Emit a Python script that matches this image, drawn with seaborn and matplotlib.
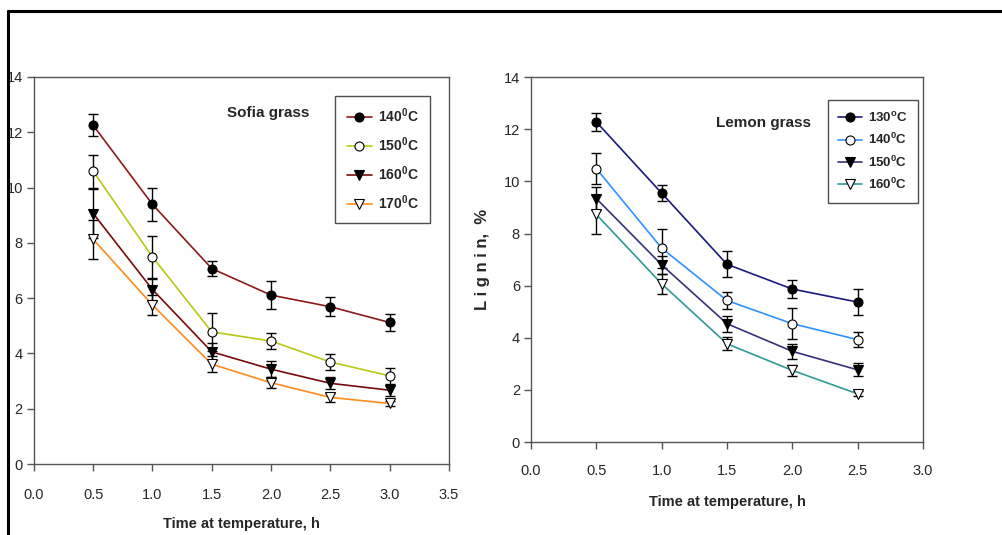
import numpy as np
import pandas as pd
import matplotlib
matplotlib.use("Agg")
import matplotlib.pyplot as plt
import seaborn as sns
from matplotlib.lines import Line2D

# Sofia grass
sofia_time = [0.5, 1.0, 1.5, 2.0, 2.5, 3.0]
sofia_labels = ["140$^0$C", "150$^0$C", "160$^0$C", "170$^0$C"]
sofia_140 = [12.25, 9.39, 7.07, 6.11, 5.69, 5.12]
sofia_150 = [10.59, 7.49, 4.78, 4.45, 3.69, 3.19]
sofia_160 = [9.06, 6.31, 4.06, 3.43, 2.92, 2.67]
sofia_170 = [8.13, 5.75, 3.61, 2.94, 2.41, 2.19]
sofia_140_err = [0.40, 0.60, 0.28, 0.50, 0.35, 0.30]
sofia_150_err = [0.60, 0.75, 0.70, 0.28, 0.30, 0.30]
sofia_160_err = [0.90, 0.40, 0.30, 0.30, 0.22, 0.20]
sofia_170_err = [0.70, 0.35, 0.28, 0.20, 0.15, 0.10]

# Lemon grass
lemon_time = [0.5, 1.0, 1.5, 2.0, 2.5]
lemon_labels = ["130$^{\\rm o}$C", "140$^0$C", "150$^0$C", "160$^0$C"]
lemon_130 = [12.28, 9.55, 6.82, 5.87, 5.37]
lemon_140 = [10.49, 7.44, 5.43, 4.54, 3.93]
lemon_150 = [9.34, 6.80, 4.54, 3.48, 2.77]
lemon_160 = [8.73, 6.07, 3.77, 2.75, 1.85]
lemon_130_err = [0.35, 0.30, 0.50, 0.35, 0.50]
lemon_140_err = [0.60, 0.75, 0.32, 0.60, 0.30]
lemon_150_err = [0.45, 0.35, 0.30, 0.30, 0.25]
lemon_160_err = [0.75, 0.38, 0.25, 0.20, 0.10]

sns.set_style("white")
plt.rcParams["font.family"] = ["Liberation Sans", "DejaVu Sans"]
plt.rcParams["mathtext.fontset"] = "custom"
plt.rcParams["mathtext.rm"] = "Liberation Sans:bold"
plt.rcParams["mathtext.bf"] = "Liberation Sans:bold"

fig = plt.figure(figsize=(10.02, 5.35), dpi=100)
ax1 = fig.add_axes([0.0339, 0.1327, 0.414, 0.7234])
ax2 = fig.add_axes([0.530, 0.1738, 0.391, 0.682])

markers = ["o", "o", "v", "v"]
faces = ["black", "white", "black", "white"]


def draw_panel(ax, t, series, errs, labels, colors):
    for i in range(4):
        df = pd.DataFrame({"t": t, "y": series[i]})
        ax.errorbar(t, series[i], yerr=errs[i], fmt="none", ecolor="black",
                    elinewidth=1, capsize=3.5, capthick=1, zorder=2)
        sns.lineplot(data=df, x="t", y="y", ax=ax, color=colors[i],
                     marker=markers[i], markersize=6.5,
                     markerfacecolor=faces[i], markeredgecolor="black",
                     markeredgewidth=0.8, linewidth=1.2, label=labels[i],
                     zorder=3)
    for s in ax.spines.values():
        s.set_visible(True)
        s.set_color("#555555")
        s.set_linewidth(1)
    ax.set_ylim(0, 14)
    ax.set_yticks(range(0, 15, 2))
    ax.tick_params(axis="both", direction="out", length=5, width=1,
                   color="#555555", labelsize=10.5, pad=3, bottom=True, left=True)
    ax.set_xlabel("")
    ax.set_ylabel("")


draw_panel(ax1, sofia_time, [sofia_140, sofia_150, sofia_160, sofia_170],
           [sofia_140_err, sofia_150_err, sofia_160_err, sofia_170_err],
           sofia_labels, ["#8b1a1a", "#b8c814", "#7a0a0a", "#ff8c1a"])
ax1.set_xlim(0, 3.5)
ax1.set_xticks(np.arange(0, 3.51, 0.5))
ax1.set_xticklabels([f"{v:.1f}" for v in np.arange(0, 3.51, 0.5)])
ax1.tick_params(axis="x", pad=12)
ax1.text(1.98, 12.7, "Sofia grass", ha="center", va="center",
         fontsize=11, fontweight="bold")
ax1.set_xlabel("Time at temperature, h", fontsize=10.5, fontweight="bold", labelpad=11)
leg1 = ax1.legend(loc="upper left", bbox_to_anchor=(0.71, 0.97), frameon=True,
                  fancybox=False, edgecolor="#222222",
                  prop={"weight": "bold", "size": 10}, handlelength=1.8,
                  handletextpad=0.5, labelspacing=0.75, borderpad=0.8)
leg1.get_frame().set_linewidth(1)

draw_panel(ax2, lemon_time, [lemon_130, lemon_140, lemon_150, lemon_160],
           [lemon_130_err, lemon_140_err, lemon_150_err, lemon_160_err],
           lemon_labels, ["#1a1a80", "#2e93ff", "#33337a", "#2e9a96"])
ax2.set_xlim(0, 3.0)
ax2.set_xticks(np.arange(0, 3.01, 0.5))
ax2.set_xticklabels([f"{v:.1f}" for v in np.arange(0, 3.01, 0.5)])
ax2.tick_params(axis="x", pad=11)
ax2.text(1.78, 12.24, "Lemon grass", ha="center", va="center",
         fontsize=11, fontweight="bold")
ax2.set_xlabel("Time at temperature, h", fontsize=10.5, fontweight="bold", labelpad=12)
ax2.set_ylabel("L i g n i n,  %", fontsize=12, fontweight="bold", labelpad=10)
leg2 = ax2.legend(loc="upper left", bbox_to_anchor=(0.74, 0.955), frameon=True,
                  fancybox=False, edgecolor="#222222",
                  prop={"weight": "bold", "size": 9.5}, handlelength=1.8,
                  handletextpad=0.5, labelspacing=0.55, borderpad=0.8)
leg2.get_frame().set_linewidth(1)

# outer frame lines (top and left)
fig.add_artist(Line2D([0.008, 1.0], [0.980, 0.980], color="black", linewidth=2.2,
                      transform=fig.transFigure))
fig.add_artist(Line2D([0.008, 0.008], [0.0, 0.980], color="black", linewidth=2.2,
                      transform=fig.transFigure))

plt.savefig("out.png", dpi=100)
plt.close()
